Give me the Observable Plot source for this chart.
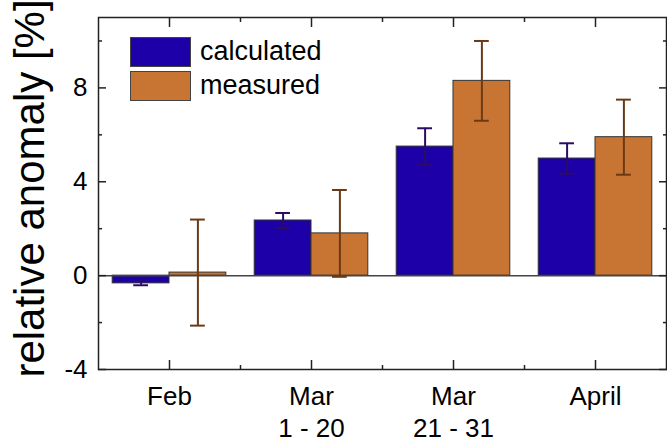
<!DOCTYPE html>
<html>
<head>
<meta charset="utf-8">
<script src="https://cdn.jsdelivr.net/npm/d3@7"></script>
<script src="https://cdn.jsdelivr.net/npm/@observablehq/plot@0.6"></script>
<style>
  body { margin: 0; background: #fff; }
  #wrap { position: relative; width: 667px; height: 445px; font-family: "Liberation Sans", Arial, sans-serif; }
  .sw { position: absolute; box-sizing: border-box; border: 1px solid #444; }
  .lt { position: absolute; font-size: 27px; line-height: 27px; color: #000; white-space: nowrap; }
</style>
</head>
<body>
<div id="wrap"></div>
<script>
const categories = ["Feb", "Mar\n1 - 20", "Mar\n21 - 31", "April"];
const seriesNames = ["calculated", "measured"];
const calculated = [-0.33, 2.35, 5.5, 4.99];
const calculatedErr = [0.08, 0.32, 0.78, 0.65];
const measured = [0.13, 1.8, 8.3, 5.9];
const measuredErr = [2.26, 1.85, 1.7, 1.6];
const yTicks = [-4, 0, 4, 8];
const yMinorTicks = [-2, 2, 6, 10];
const fillColors = ["#1E00A8", "#C87533"];
const errColors = ["#2D0C60", "#6A3A16"];

const BW = 0.4;      // bar width in band units
const CAP = 0.052;   // half cap width in band units

const rows = categories.flatMap((c, i) => [
  {i, s: 0, series: seriesNames[0], value: calculated[i], err: calculatedErr[i]},
  {i, s: 1, series: seriesNames[1], value: measured[i], err: measuredErr[i]}
]);
const left = d => d.s === 0 ? d.i - BW : d.i;
const right = d => d.s === 0 ? d.i : d.i + BW;
const center = d => d.s === 0 ? d.i - BW / 2 : d.i + BW / 2;

const xMajor = categories.map((c, i) => i);
const xMinor = categories.slice(1).map((c, i) => i + 0.5);
const blank = () => "";
const font = "Liberation Sans, Arial, sans-serif";

const chart = Plot.plot({
  width: 667,
  height: 445,
  marginLeft: 98,
  marginRight: 1,
  marginTop: 17,
  marginBottom: 76,
  style: {fontFamily: font, background: "#fff", color: "#000"},
  x: {domain: [-0.5, categories.length - 0.5]},
  y: {domain: [-4, 11]},
  color: {domain: seriesNames, range: fillColors},
  marks: [
    Plot.rect(rows, {x1: left, x2: right, y1: 0, y2: "value", fill: "series", stroke: "#333", strokeWidth: 1}),
    Plot.ruleY([0], {stroke: "#444", strokeWidth: 1.5}),
    Plot.ruleX(rows, {x: center, y1: d => d.value - d.err, y2: d => d.value + d.err, stroke: d => errColors[d.s], strokeWidth: 2}),
    Plot.ruleY(rows, {y: d => d.value + d.err, x1: d => center(d) - CAP, x2: d => center(d) + CAP, stroke: d => errColors[d.s], strokeWidth: 2}),
    Plot.ruleY(rows, {y: d => d.value - d.err, x1: d => center(d) - CAP, x2: d => center(d) + CAP, stroke: d => errColors[d.s], strokeWidth: 2}),
    Plot.frame({stroke: "#222", strokeWidth: 1.5}),
    // left axis
    Plot.axisY({ticks: yTicks, tickSize: 0, tickPadding: 11, tickFormat: d => String(d), fontSize: 26, label: null, fill: "#000"}),
    Plot.axisY({ticks: yTicks, tickSize: -8, tickFormat: blank, label: null, stroke: "#222", strokeWidth: 1.5}),
    Plot.axisY({ticks: yMinorTicks, tickSize: -4, tickFormat: blank, label: null, stroke: "#222", strokeWidth: 1.5}),
    // right axis
    Plot.axisY({anchor: "right", ticks: yTicks, tickSize: -8, tickFormat: blank, label: null, stroke: "#222", strokeWidth: 1.5}),
    Plot.axisY({anchor: "right", ticks: yMinorTicks, tickSize: -4, tickFormat: blank, label: null, stroke: "#222", strokeWidth: 1.5}),
    // bottom axis
    Plot.axisX({ticks: xMajor, tickSize: 0, tickPadding: 12, tickFormat: i => categories[i], fontSize: 26, lineHeight: 1.25, label: null, fill: "#000"}),
    Plot.axisX({ticks: xMajor, tickSize: -9, tickFormat: blank, label: null, stroke: "#222", strokeWidth: 1.5}),
    Plot.axisX({ticks: xMinor, tickSize: -4, tickFormat: blank, label: null, stroke: "#222", strokeWidth: 1.5}),
    // top axis
    Plot.axisX({anchor: "top", ticks: xMajor, tickSize: -9, tickFormat: blank, label: null, stroke: "#222", strokeWidth: 1.5}),
    Plot.axisX({anchor: "top", ticks: xMinor, tickSize: -4, tickFormat: blank, label: null, stroke: "#222", strokeWidth: 1.5}),
    // y label
    Plot.text(["relative anomaly [%]"], {text: d => d, frameAnchor: "left", rotate: -90, lineAnchor: "top", textAnchor: "middle", dx: -84, dy: -5, fontSize: 42, fill: "#000"})
  ]
});

const wrap = document.getElementById("wrap");
wrap.appendChild(chart);

// legend overlay
seriesNames.forEach((name, k) => {
  const sw = document.createElement("div");
  sw.className = "sw";
  sw.style.left = "130px";
  sw.style.top = (37 + k * 34.4) + "px";
  sw.style.width = "61px";
  sw.style.height = "29.5px";
  sw.style.background = fillColors[k];
  wrap.appendChild(sw);
  const lt = document.createElement("div");
  lt.className = "lt";
  lt.style.left = "200px";
  lt.style.top = (38 + k * 33.6) + "px";
  lt.textContent = name;
  wrap.appendChild(lt);
});
</script>
</body>
</html>
